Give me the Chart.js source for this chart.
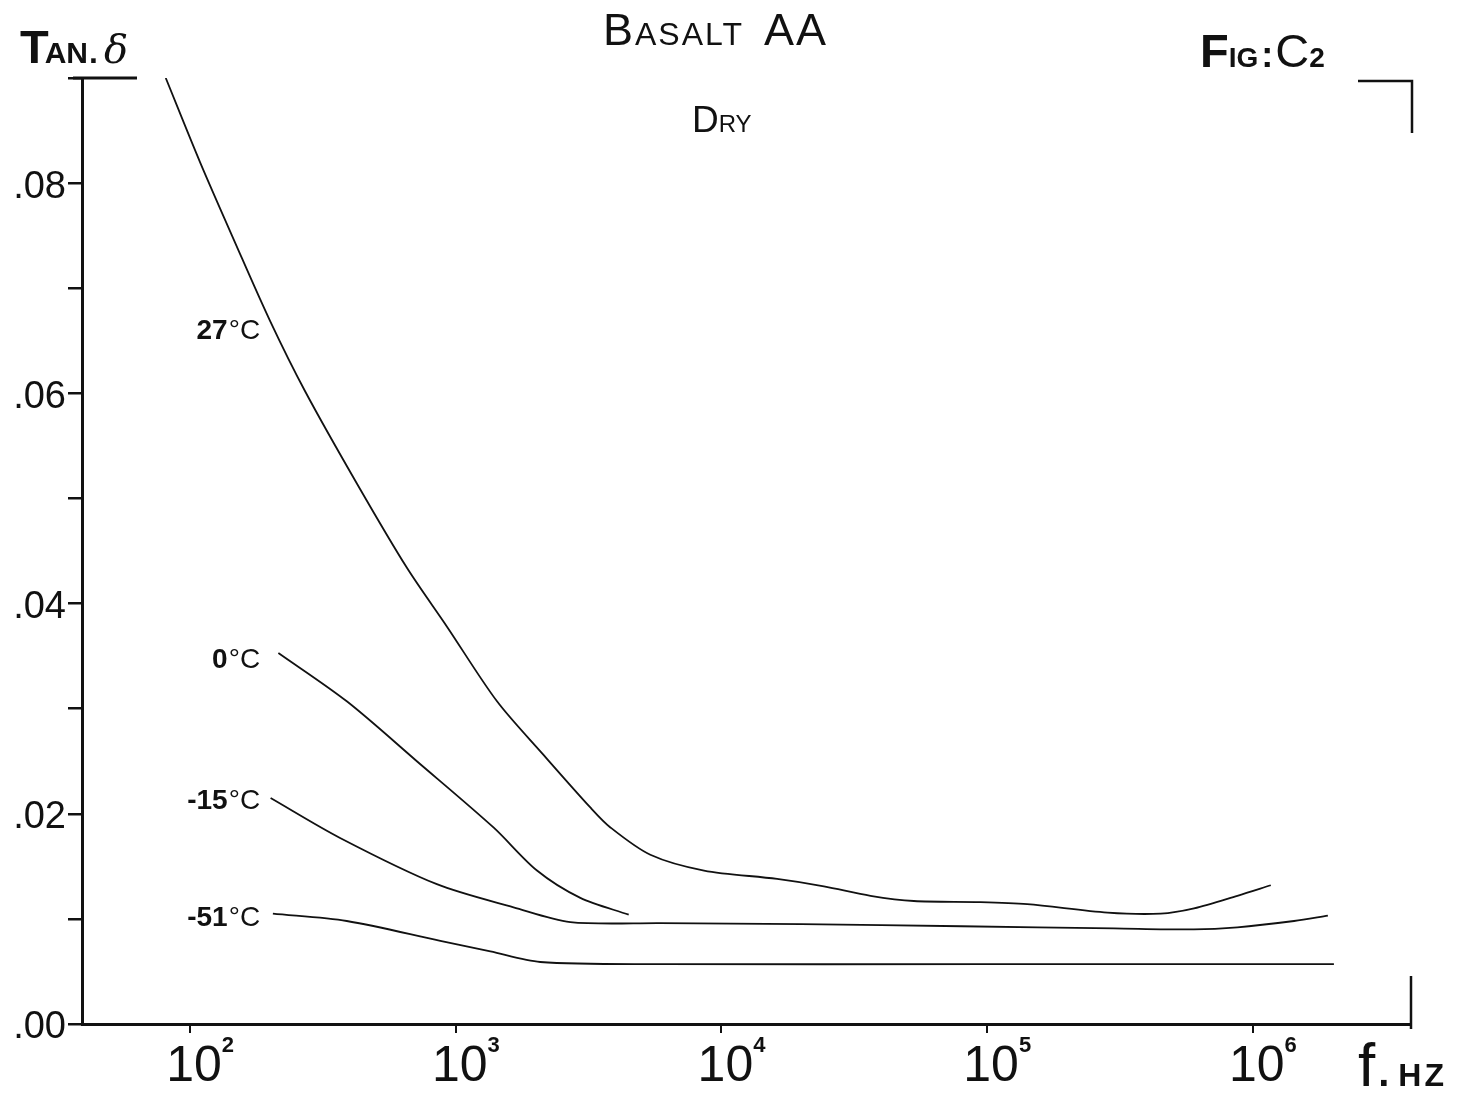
<!DOCTYPE html>
<html>
<head>
<meta charset="utf-8">
<title>Basalt AA – Dry</title>
<script src="https://cdn.jsdelivr.net/npm/chart.js@4.4.1/dist/chart.umd.min.js"></script>
<style>
  html, body { margin: 0; padding: 0; background: #fff; }
  canvas { display: block; }
</style>
</head>
<body>
<canvas id="chart" width="1468" height="1094"></canvas>
<script>
// Loss tangent (tan δ) of dry basalt AA against frequency, one curve per temperature.
const temps = ['27', '0', '-15', '-51'];

const freq27 = [81, 109, 148, 200, 271, 425, 655, 927, 1430, 2140, 3210, 3820, 5400, 8600,
                16200, 24300, 36400, 53000, 94500, 141600, 284000, 450000, 601000, 875000, 1169000];
const tan27  = [0.0900, 0.0820, 0.0743, 0.0669, 0.0602, 0.0514, 0.0434, 0.0378, 0.0307,
                0.0256, 0.0206, 0.0187, 0.0161, 0.0146, 0.0138, 0.0131, 0.0122, 0.0117, 0.0116,
                0.0114, 0.0106, 0.0105, 0.0110, 0.0122, 0.0132];

const freq0 = [215, 389, 714, 1387, 2022, 2944, 4477];
const tan0  = [0.0353, 0.0307, 0.0250, 0.0187, 0.0146, 0.0120, 0.0104];

const freqM15 = [201, 367, 849, 1650, 2700, 5900, 20000, 80000, 300000, 600000, 875000, 1430000, 1917000];
const tanM15  = [0.0215, 0.0177, 0.0133, 0.0111, 0.0097, 0.0096, 0.0095, 0.0093, 0.0091, 0.0090,
                 0.0092, 0.0098, 0.0103];

const freqM51 = [205, 389, 875, 1350, 2080, 5900, 100000, 2020000];
const tanM51  = [0.0105, 0.0098, 0.0079, 0.0069, 0.0059, 0.0057, 0.0057, 0.0057];

const decades = [100, 1000, 10000, 100000, 1000000];
const yTickLabels = ['.00', '.02', '.04', '.06', '.08'];

const INK = '#111';
const FONT = '"Liberation Sans", "DejaVu Sans", sans-serif';

const seriesFreq = [freq27, freq0, freqM15, freqM51];
const seriesTan  = [tan27, tan0, tanM15, tanM51];

const datasets = temps.map((t, i) => ({
  label: t + '°C',
  data: seriesFreq[i].map((f, j) => ({ x: f, y: seriesTan[i][j] })),
  showLine: true,
  borderColor: INK,
  borderWidth: 1.8,
  pointRadius: 0,
  fill: false,
  tension: 0.3
}));

// draw a run of text pieces of different sizes along one baseline
function drawParts(ctx, parts, x, y, align) {
  let w = 0;
  parts.forEach(p => { ctx.font = p.font; w += ctx.measureText(p.text).width + (p.gap || 0); });
  let cx = align === 'center' ? x - w / 2 : align === 'right' ? x - w : x;
  parts.forEach(p => {
    ctx.font = p.font;
    ctx.fillText(p.text, cx, y + (p.dy || 0));
    cx += ctx.measureText(p.text).width + (p.gap || 0);
  });
}

const decorations = {
  id: 'decorations',
  afterDraw(chart) {
    const ctx = chart.ctx;
    const area = chart.chartArea;
    const xs = chart.scales.x;
    const ys = chart.scales.y;
    ctx.save();
    ctx.fillStyle = INK;
    ctx.strokeStyle = INK;
    ctx.textBaseline = 'alphabetic';
    ctx.textAlign = 'left';
    ctx.lineCap = 'butt';

    // frame corners
    ctx.lineWidth = 3;
    ctx.beginPath();
    ctx.moveTo(area.left - 9, area.top); ctx.lineTo(area.left + 55, area.top);
    ctx.stroke();
    ctx.lineWidth = 2.5;
    ctx.beginPath();
    ctx.moveTo(area.right - 53, area.top + 3); ctx.lineTo(area.right + 1, area.top + 3);
    ctx.lineTo(area.right + 1, area.top + 55);
    ctx.stroke();
    ctx.beginPath();
    ctx.moveTo(area.right, area.bottom - 48); ctx.lineTo(area.right, area.bottom + 5);
    ctx.stroke();

    // frequency decade labels
    decades.forEach(v => {
      const px = xs.getPixelForValue(v);
      ctx.font = '50px ' + FONT;
      const w = ctx.measureText('10').width;
      const left = px - w / 2 + 4;
      ctx.fillText('10', left, 1081);
      ctx.font = 'bold 22px ' + FONT;
      ctx.fillText(String(Math.round(Math.log10(v))), left + w, 1052);
    });

    // axis titles
    ctx.letterSpacing = '3px';
    drawParts(ctx, [
      { text: 'f', font: '62px ' + FONT, gap: 0 },
      { text: '.', font: 'bold 40px ' + FONT, gap: 6 },
      { text: 'HZ', font: 'bold 32px ' + FONT }
    ], 1358, 1086, 'left');
    ctx.letterSpacing = '0px';

    drawParts(ctx, [
      { text: 'T', font: 'bold 47px ' + FONT, gap: -4 },
      { text: 'AN', font: 'bold 30px ' + FONT, gap: 1 },
      { text: '.', font: 'bold 32px ' + FONT, gap: 6 },
      { text: 'δ', font: 'italic 40px "DejaVu Serif", serif' }
    ], 20, 63, 'left');

    // headings
    ctx.letterSpacing = '2px';
    drawParts(ctx, [
      { text: 'B', font: '45px ' + FONT },
      { text: 'ASALT', font: '32px ' + FONT, gap: 20 },
      { text: 'AA', font: '45px ' + FONT }
    ], 603, 45, 'left');
    ctx.letterSpacing = '0px';

    drawParts(ctx, [
      { text: 'D', font: '37px ' + FONT },
      { text: 'RY', font: '24px ' + FONT }
    ], 692, 132, 'left');

    drawParts(ctx, [
      { text: 'F', font: 'bold 47px ' + FONT, gap: 0 },
      { text: 'IG', font: 'bold 28px ' + FONT, gap: 3 },
      { text: ':', font: 'bold 36px ' + FONT, gap: 2 },
      { text: 'C', font: '47px ' + FONT, gap: 0 },
      { text: '2', font: 'bold 28px ' + FONT }
    ], 1200, 67, 'left');

    // temperature labels beside each curve
    const labelAt = [0.0661, 0.0348, 0.0214, 0.0103];
    const lx = xs.getPixelForValue(183.5);
    temps.forEach((t, i) => {
      const py = ys.getPixelForValue(labelAt[i]) + 10;
      drawParts(ctx, [
        { text: t, font: 'bold 28px ' + FONT, gap: 1 },
        { text: '°C', font: '28px ' + FONT }
      ], lx, py, 'right');
    });

    ctx.restore();
  }
};

new Chart(document.getElementById('chart'), {
  type: 'scatter',
  data: { datasets },
  options: {
    responsive: false,
    animation: false,
    devicePixelRatio: 1,
    layout: { padding: { left: 0, right: 57, top: 78, bottom: 0 } },
    plugins: {
      legend: { display: false },
      tooltip: { enabled: false },
      title: { display: false }
    },
    scales: {
      x: {
        type: 'logarithmic',
        position: 'bottom',
        min: 39.2,
        max: 3.94e6,
        afterBuildTicks: s => { s.ticks = decades.map(v => ({ value: v })); },
        afterFit: s => { s.height = 70; },
        ticks: { display: false },
        grid: { drawOnChartArea: false, drawTicks: true, tickLength: 9, color: INK, lineWidth: 2 },
        border: { display: true, color: INK, width: 3 }
      },
      y: {
        type: 'linear',
        min: 0,
        max: 0.09,
        afterFit: s => { s.width = 82; },
        ticks: {
          stepSize: 0.01,
          color: INK,
          padding: 2,
          labelOffset: 4,
          font: { family: FONT, size: 38 },
          callback: v => {
            const k = Math.round(v * 100);
            return (k % 2 === 0 && k < 9) ? yTickLabels[k / 2] : '';
          }
        },
        grid: { drawOnChartArea: false, drawTicks: true, tickLength: 14, color: INK, lineWidth: 2.5 },
        border: { display: true, color: INK, width: 3 }
      }
    }
  },
  plugins: [decorations]
});
</script>
</body>
</html>
